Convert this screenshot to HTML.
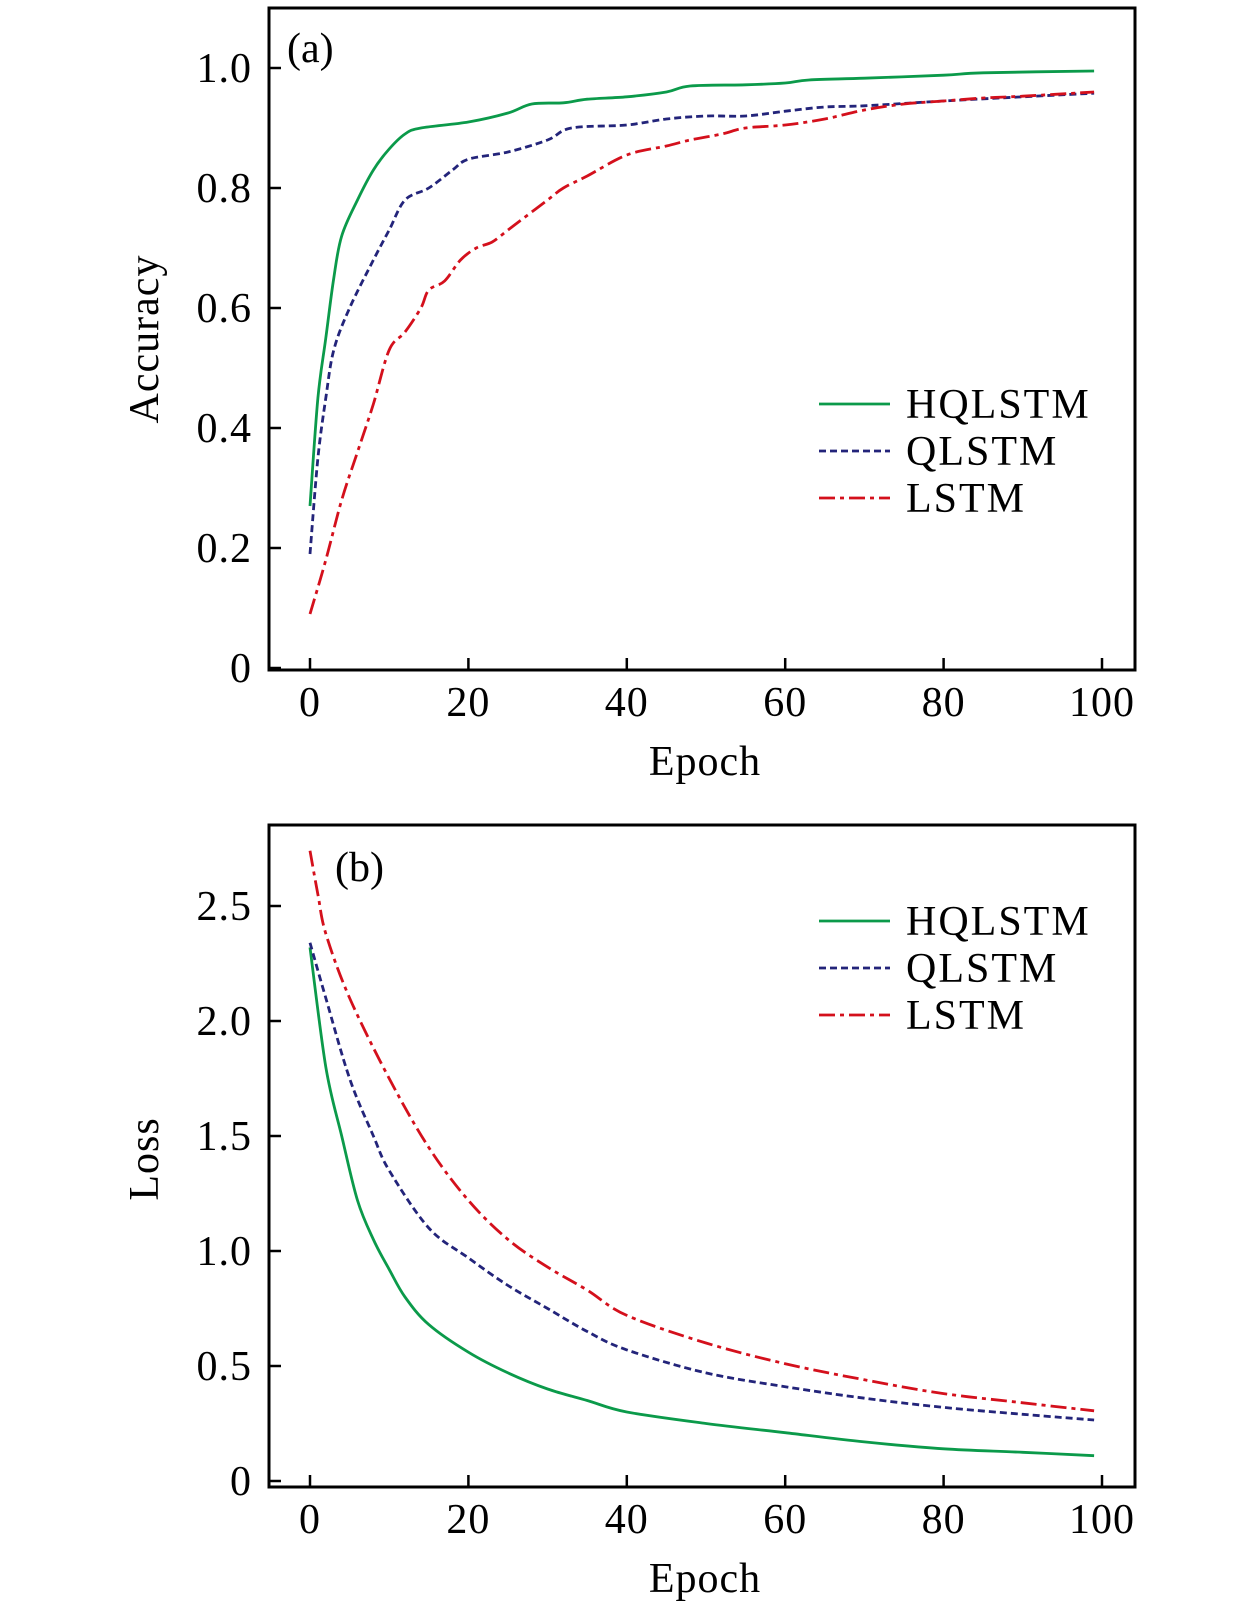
<!DOCTYPE html>
<html><head><meta charset="utf-8"><style>
html,body{margin:0;padding:0;background:#fff;}
svg{display:block;font-family:"Liberation Serif",serif;}
</style></head><body>
<svg id="fig" width="1260" height="1606" viewBox="0 0 1260 1606" xmlns="http://www.w3.org/2000/svg"></svg>
<script>
const NS="http://www.w3.org/2000/svg";
const xTicks=[0,20,40,60,80,100];
const accTicks=[0,0.2,0.4,0.6,0.8,1.0];
const accTickLabels=["0","0.2","0.4","0.6","0.8","1.0"];
const lossTicks=[0,0.5,1.0,1.5,2.0,2.5];
const lossTickLabels=["0","0.5","1.0","1.5","2.0","2.5"];
const seriesNames=["HQLSTM","QLSTM","LSTM"];

const accHqX=[0,1,2,3,4,6,8,10,12,14,20,25,28,32,35,40,45,48,55,60,63,70,80,85,99];
const accHqY=[0.27,0.45,0.55,0.65,0.72,0.78,0.83,0.865,0.89,0.9,0.91,0.925,0.94,0.942,0.948,0.952,0.96,0.97,0.972,0.975,0.98,0.983,0.988,0.992,0.995];
const accQX=[0,1,2,3,5,8,10,12,15,18,20,25,30,33,40,45,50,55,60,65,70,80,90,99];
const accQY=[0.19,0.35,0.45,0.53,0.6,0.68,0.73,0.78,0.8,0.83,0.848,0.86,0.88,0.9,0.905,0.915,0.92,0.92,0.928,0.935,0.937,0.945,0.952,0.958];
const accLX=[0,2,4,6,8,10,12,14,15,17,19,21,23,25,27,30,32,35,40,45,48,52,55,60,65,70,75,80,85,90,99];
const accLY=[0.09,0.18,0.28,0.36,0.44,0.53,0.56,0.6,0.63,0.645,0.68,0.7,0.71,0.73,0.75,0.78,0.8,0.82,0.855,0.87,0.88,0.89,0.9,0.905,0.915,0.93,0.94,0.945,0.95,0.953,0.96];

const lossHqX=[0,2,4,6,8,10,12,15,20,25,30,35,40,50,60,70,80,90,99];
const lossHqY=[2.32,1.8,1.5,1.22,1.05,0.92,0.8,0.68,0.56,0.47,0.4,0.35,0.3,0.25,0.21,0.17,0.14,0.125,0.11];
const lossQX=[0,2,5,8,10,15,20,25,30,35,40,50,60,70,80,90,99];
const lossQY=[2.34,2.1,1.75,1.5,1.35,1.1,0.97,0.85,0.75,0.65,0.57,0.47,0.41,0.36,0.32,0.29,0.265];
const lossLX=[0,1,2,5,10,15,20,25,30,35,40,50,60,70,80,90,99];
const lossLY=[2.74,2.55,2.38,2.1,1.75,1.45,1.22,1.05,0.93,0.83,0.72,0.6,0.51,0.44,0.38,0.34,0.305];

const styles=[{c:"#0b9a4a",d:""},{c:"#23247a",d:"7,4"},{c:"#d4101c",d:"16,5,4,5"}];
const FS=42;
const svg=document.getElementById("fig");
function mk(t,a,p){const e=document.createElementNS(NS,t);for(const k in a)e.setAttribute(k,a[k]);(p||svg).appendChild(e);return e;}
function smooth(pts){
  let d="M"+pts[0][0].toFixed(1)+","+pts[0][1].toFixed(1);
  for(let i=0;i<pts.length-1;i++){
    const p0=pts[Math.max(0,i-1)],p1=pts[i],p2=pts[i+1],p3=pts[Math.min(pts.length-1,i+2)];
    const c1=[p1[0]+(p2[0]-p0[0])/6,p1[1]+(p2[1]-p0[1])/6];
    const c2=[p2[0]-(p3[0]-p1[0])/6,p2[1]-(p3[1]-p1[1])/6];
    d+=" C"+c1.map(v=>v.toFixed(1)).join(",")+" "+c2.map(v=>v.toFixed(1)).join(",")+" "+p2[0].toFixed(1)+","+p2[1].toFixed(1);
  }
  return d;
}

function panel(o){
  const g=mk("g",{});
  
  
  const xs=v=>310+7.92*v, ys=v=>o.y0-o.k*v;
  const fr=mk("rect",{x:269,y:o.top,width:866,height:o.bot-o.top,fill:"none",stroke:"#000","stroke-width":3},g);
  
  
  xTicks.forEach(v=>{
    const l=mk("line",{x1:xs(v),x2:xs(v),y1:o.bot,y2:o.bot-12,stroke:"#000","stroke-width":2.5},g);
    
    
    const t=mk("text",{x:xs(v),y:o.bot+46,"font-size":FS,"text-anchor":"middle","letter-spacing":1},g);
    t.textContent=String(v);
    
    
  });
  o.ticks.forEach((v,i)=>{
    const l=mk("line",{x1:269,x2:281,y1:ys(v),y2:ys(v),stroke:"#000","stroke-width":2.5},g);
    
    
    const t=mk("text",{x:252,y:ys(v)+14,"font-size":FS,"text-anchor":"end","letter-spacing":1},g);
    t.textContent=o.labels[i];
    
    
  });
  const xt=mk("text",{x:705,y:o.bot+105,"font-size":FS,"text-anchor":"middle","letter-spacing":1},g);
  xt.textContent="Epoch";
  
  
  const yt=mk("text",{x:0,y:0,"font-size":FS,"text-anchor":"middle","letter-spacing":1,transform:`translate(158,${o.ymid}) rotate(-90)`},g);
  yt.textContent=o.ytitle;
  
  
  const pl=mk("text",{x:o.px,y:o.py,"font-size":FS},g);
  pl.textContent=o.plabel;
  
  
  o.series.forEach((s,i)=>{
    const pts=s[0].map((x,j)=>[xs(x),ys(s[1][j])]);
    const p=mk("path",{d:smooth(pts),fill:"none",stroke:styles[i].c,"stroke-width":2.8,"stroke-dasharray":styles[i].d,"stroke-linejoin":"round"},g);
    
    
    const ly=o.legY+i*47;
    const ll=mk("line",{x1:819,x2:890,y1:ly,y2:ly,stroke:styles[i].c,"stroke-width":2.8,"stroke-dasharray":styles[i].d},g);
    
    
    const lt=mk("text",{x:906,y:ly+14,"font-size":FS,"letter-spacing":2},g);
    lt.textContent=seriesNames[i];
    
    
  });
}
panel({name:"accuracy-chart",top:8,bot:670,y0:668,k:600,ticks:accTicks,labels:accTickLabels,ytitle:"Accuracy",ymid:339,plabel:"(a)",px:287,py:62,legY:404,
  series:[[accHqX,accHqY],[accQX,accQY],[accLX,accLY]]});
panel({name:"loss-chart",top:825,bot:1487,y0:1481,k:230,ticks:lossTicks,labels:lossTickLabels,ytitle:"Loss",ymid:1159,plabel:"(b)",px:335,py:881,legY:921,
  series:[[lossHqX,lossHqY],[lossQX,lossQY],[lossLX,lossLY]]});
</script>
</body></html>
